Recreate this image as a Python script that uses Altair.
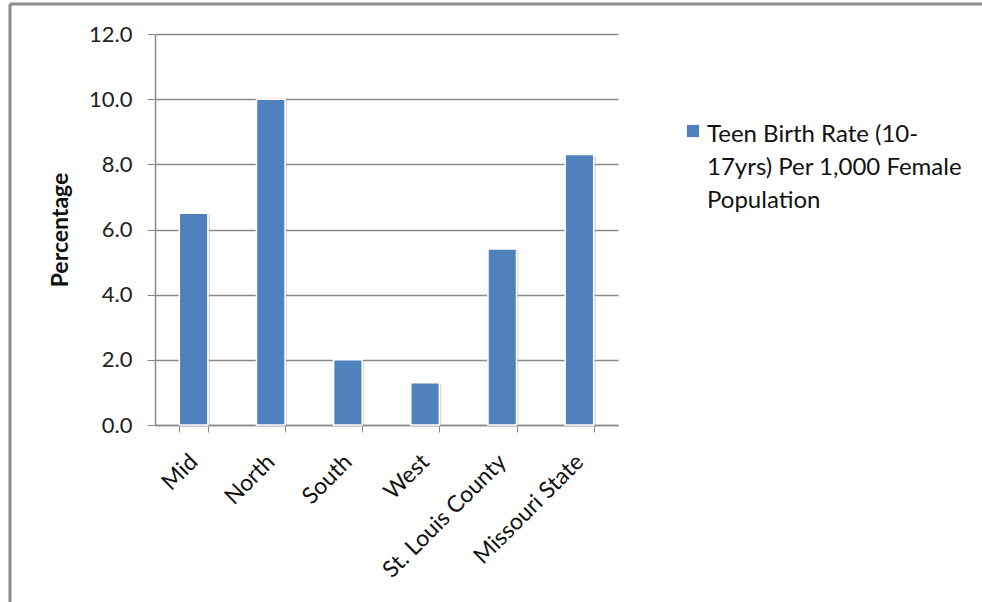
import altair as alt
import pandas as pd

# Teen birth rate by region
regions = ["Mid", "North", "South", "West", "St. Louis County", "Missouri State"]
rates = [6.5, 10.0, 2.0, 1.3, 5.4, 8.3]
series_name = ["Teen Birth Rate (10-", "17yrs) Per 1,000 Female", "Population"]
y_ticks = [0, 2, 4, 6, 8, 10, 12]

df = pd.DataFrame({"region": regions, "rate": rates})

FONT = "Lato"
BAR = "#4F81BD"
GRID = "#8a8a8a"

W, H = 463, 391
PAD_L, PAD_T = 155, 34

x_enc = alt.X(
    "region:N",
    sort=regions,
    scale=alt.Scale(paddingInner=0.63, paddingOuter=0.315),
    axis=alt.Axis(
        title=None,
        labelAngle=-45,
        labelAlign="right",
        labelBaseline="middle",
        labelFont=FONT,
        labelFontSize=23,
        labelColor="#111111",
        labelPadding=26,
        tickBand="extent",
        tickSize=7,
        tickColor=GRID,
        domainColor=GRID,
        domainWidth=1.5,
        grid=False,
    ),
)
y_enc = alt.Y(
    "rate:Q",
    scale=alt.Scale(domain=[0, 12], nice=False),
    axis=alt.Axis(
        title="Percentage",
        titleFont=FONT,
        titleFontSize=23,
        titleFontWeight="bold",
        titleColor="#111111",
        titlePadding=16,
        values=y_ticks,
        format=".1f",
        labelFont=FONT,
        labelFontSize=22,
        labelColor="#222222",
        labelPadding=15,
        tickSize=8,
        tickColor=GRID,
        domainColor=GRID,
        domainWidth=1.5,
        gridColor=GRID,
        gridWidth=1.5,
    ),
)

base = alt.Chart(df)

shadow = base.mark_bar(color="#9a9a9a", opacity=0.35, xOffset=2, yOffset=1).encode(
    x=x_enc, y=y_enc
)
bars = base.mark_bar(color=BAR, stroke="white", strokeWidth=1.5).encode(
    x=x_enc, y=y_enc
)

# legend swatch and wrapped series label
swatch = (
    alt.Chart(pd.DataFrame({"k": [0]}))
    .mark_square(color=BAR, size=150, opacity=1)
    .encode(x=alt.value(538), y=alt.value(97))
)
legend_text = (
    alt.Chart(pd.DataFrame({"k": [0]}))
    .mark_text(
        text=series_name,
        font=FONT,
        fontSize=24,
        color="#111111",
        align="left",
        baseline="alphabetic",
        lineHeight=33,
    )
    .encode(x=alt.value(552), y=alt.value(108))
)

# outer frame (left and top edges)
frame_left = (
    alt.Chart(pd.DataFrame({"k": [0]}))
    .mark_rule(color="#8c8c8c", strokeWidth=3)
    .encode(x=alt.value(10 - PAD_L), y=alt.value(4 - PAD_T), y2=alt.value(602 - PAD_T))
)
frame_top = (
    alt.Chart(pd.DataFrame({"k": [0]}))
    .mark_rule(color="#8c8c8c", strokeWidth=3)
    .encode(y=alt.value(4 - PAD_T), x=alt.value(10 - PAD_L), x2=alt.value(982 - PAD_L))
)

chart = (
    alt.layer(shadow, bars, swatch, legend_text, frame_left, frame_top)
    .properties(
        width=W,
        height=H,
        autosize=alt.AutoSizeParams(type="none"),
        padding={"left": PAD_L, "top": PAD_T, "right": 982 - PAD_L - W, "bottom": 602 - PAD_T - H},
        background="white",
    )
    .configure_view(stroke=None)
)

chart.save("out.html", embed_options={"renderer": "svg", "actions": False})
